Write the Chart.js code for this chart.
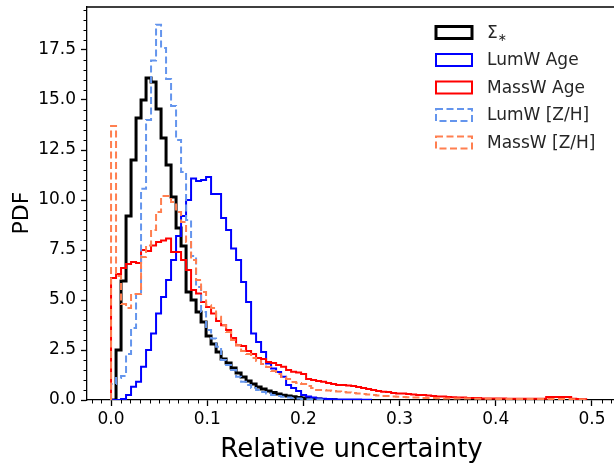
<!DOCTYPE html>
<html>
<head>
<meta charset="utf-8">
<script src="https://cdn.jsdelivr.net/npm/chart.js@4.4.1/dist/chart.umd.min.js"></script>
<style>
  html, body { margin: 0; padding: 0; background: #fff; overflow: hidden; }
  #wrap { width: 622px; height: 464px; position: relative; }
</style>
</head>
<body>
<div id="wrap"><canvas id="pdf"></canvas></div>
<script>
// histogram bins: all series share the same bin width, starting at 0
const binWidth = 0.0052;

const xTicks = [0, 0.1, 0.2, 0.3, 0.4, 0.5];
const yTicks = [0, 2.5, 5, 7.5, 10, 12.5, 15, 17.5];

const seriesLabels = ['Σ*', 'LumW Age', 'MassW Age', 'LumW [Z/H]', 'MassW [Z/H]'];

const sigmaStar = [0, 2.5, 5.95, 9.2, 12.0, 14.1, 15.0, 16.1, 15.9, 14.55, 13.1, 11.75, 10.15, 8.6, 7.7,
  5.4, 5.0, 4.4, 3.9, 3.2, 2.8, 2.4, 2.05, 1.85, 1.6, 1.35, 1.15, 0.95, 0.8, 0.65, 0.55, 0.45, 0.37,
  0.3, 0.24, 0.2, 0.16, 0.13, 0.1, 0.08, 0.06, 0.05, 0.03, 0.02, 0.01];

const lumwAge = [0, 0, 0.05, 0.25, 0.66, 0.91, 1.66, 2.5, 3.33, 4.33, 5.15, 6.0, 7.0, 8.2, 9.2, 10.0,
  11.07, 10.95, 11.0, 11.15, 10.3, 10.3, 9.1, 8.5, 7.57, 7.0, 5.9, 4.9, 3.33, 2.9, 2.4, 1.83, 1.58,
  1.4, 1.16, 0.75, 0.6, 0.45, 0.25, 0.17, 0.12, 0.08, 0.06, 0.05, 0.04, 0.03, 0.03, 0.02, 0.02, 0.02,
  0.01, 0.01];

const masswAge = [6.1, 6.3, 6.6, 6.8, 6.9, 6.85, 7.5, 7.45, 7.73, 7.9, 7.98, 8.07, 7.4, 7.4, 7.0, 6.5,
  5.5, 5.32, 4.9, 4.65, 4.32, 3.95, 3.74, 3.5, 3.1, 2.74, 2.7, 2.45, 2.3, 2.1, 2.05, 1.9, 1.85, 1.75,
  1.66, 1.5, 1.41, 1.38, 1.3, 1.05, 1.0, 0.95, 0.91, 0.85, 0.8, 0.75, 0.75, 0.72, 0.7, 0.65, 0.6, 0.55,
  0.5, 0.45, 0.41, 0.4, 0.35, 0.33, 0.33, 0.3, 0.28, 0.25, 0.25, 0.22, 0.2, 0.17, 0.17, 0.15, 0.14,
  0.12, 0.12, 0.1, 0.1, 0.1, 0.08, 0.08, 0.08, 0.07, 0.07, 0.06, 0.06, 0.06, 0.06, 0.06, 0.06, 0.06,
  0.06, 0.15, 0.15, 0.15, 0.15, 0.15, 0.06, 0.05, 0.04];

const lumwZH = [0.8, 1.1, 1.2, 2.3, 3.6, 5.3, 10.56, 14.0, 16.97, 18.76, 17.6, 16.05, 14.7, 13.0, 11.4,
  9.0, 7.2, 5.65, 4.4, 3.5, 3.08, 2.66, 2.0, 1.75, 1.5, 1.16, 0.91, 0.75, 0.6, 0.5, 0.4, 0.32, 0.25,
  0.2, 0.16, 0.12, 0.1, 0.07, 0.05, 0.04, 0.03, 0.02, 0.01];

const masswZH = [13.7, 6.2, 4.8, 4.6, 5.3, 5.3, 7.15, 7.73, 8.5, 9.4, 10.2, 10.2, 9.9, 9.4, 8.9, 7.9,
  7.0, 6.0, 5.4, 4.74, 4.6, 4.16, 3.74, 3.4, 3.0, 2.74, 2.45, 2.3, 2.1, 1.95, 1.8, 1.65, 1.45, 1.3,
  1.15, 1.05, 0.9, 0.85, 0.8, 0.7, 0.6, 0.5, 0.5, 0.48, 0.45, 0.42, 0.4, 0.38, 0.35, 0.33, 0.3, 0.28,
  0.25, 0.22, 0.2, 0.2, 0.18, 0.16, 0.15, 0.14, 0.12, 0.12, 0.1, 0.1, 0.1, 0.09, 0.08, 0.08, 0.08,
  0.07, 0.07, 0.07, 0.06, 0.06, 0.06, 0.06, 0.06, 0.05, 0.05, 0.05, 0.05, 0.05, 0.05, 0.05, 0.05,
  0.05, 0.05, 0.05, 0.05, 0.05, 0.05, 0.05, 0.04, 0.04, 0.03];

const FONT = "'DejaVu Sans', 'Liberation Sans', sans-serif";

// outline of a step histogram: up at the first edge, down at the last one
function stepPoints(vals) {
  const pts = [{ x: 0, y: 0 }];
  vals.forEach((v, i) => pts.push({ x: i * binWidth, y: v }));
  pts.push({ x: vals.length * binWidth, y: 0 });
  return pts;
}

function histSet(label, vals, color, width, dash, order) {
  return {
    label: label,
    data: stepPoints(vals),
    borderColor: color,
    backgroundColor: 'rgba(0,0,0,0)',
    borderWidth: width,
    borderDash: dash,
    borderJoinStyle: 'miter',
    stepped: true,
    pointRadius: 0,
    fill: false,
    order: order
  };
}

// spines on top/right, minor ticks, legend, axis titles
const decorations = {
  id: 'decorations',
  afterDraw(chart) {
    const ctx = chart.ctx;
    const a = chart.chartArea;
    const xs = chart.scales.x, ys = chart.scales.y;
    ctx.save();
    ctx.strokeStyle = '#000';
    ctx.lineWidth = 1.3;
    ctx.beginPath();
    ctx.moveTo(a.left, a.top); ctx.lineTo(a.right, a.top); ctx.lineTo(a.right, a.bottom);
    ctx.stroke();

    // minor ticks
    ctx.lineWidth = 1;
    ctx.beginPath();
    for (let i = -2; i <= 52; i++) {
      if (i % 10 === 0) continue;
      const px = Math.round(xs.getPixelForValue(i / 100)) + 0.5;
      if (px < a.left || px > a.right) continue;
      ctx.moveTo(px, a.bottom); ctx.lineTo(px, a.bottom + 3.5);
    }
    for (let j = 1; j < 40; j++) {
      if (j % 5 === 0) continue;
      const py = Math.round(ys.getPixelForValue(j / 2)) + 0.5;
      if (py < a.top) continue;
      ctx.moveTo(a.left, py); ctx.lineTo(a.left - 3.5, py);
    }
    ctx.stroke();

    // legend
    ctx.font = '17px ' + FONT;
    ctx.textBaseline = 'middle';
    ctx.textAlign = 'left';
    chart.data.datasets.forEach((ds, i) => {
      const yc = 32.5 + i * 27.5;
      ctx.strokeStyle = ds.borderColor;
      ctx.lineWidth = ds.borderWidth;
      ctx.setLineDash(ds.borderDash || []);
      ctx.strokeRect(436, yc - 6, 36, 12);
      ctx.setLineDash([]);
      ctx.fillStyle = '#262626';
      if (ds.label === 'Σ*') {
        ctx.fillText('Σ', 487, yc + 1);
        const w = ctx.measureText('Σ').width;
        ctx.font = '11px ' + FONT;
        ctx.fillText('∗', 487 + w, yc + 6);
        ctx.font = '17px ' + FONT;
      } else {
        ctx.fillText(ds.label, 487, yc + 1);
      }
    });

    // axis titles
    ctx.fillStyle = '#000';
    ctx.textAlign = 'center';
    ctx.textBaseline = 'alphabetic';
    ctx.font = '26px ' + FONT;
    ctx.fillText('Relative uncertainty', (a.left + a.right) / 2, 457);
    ctx.translate(28, 213);
    ctx.rotate(-Math.PI / 2);
    ctx.font = '22px ' + FONT;
    ctx.fillText('PDF', 0, 0);
    ctx.restore();
  }
};

const tickFont = { family: FONT, size: 17 };

new Chart(document.getElementById('pdf'), {
  type: 'line',
  data: {
    datasets: [
      histSet(seriesLabels[0], sigmaStar, '#000000', 3, [], 5),
      histSet(seriesLabels[1], lumwAge, '#0000ff', 2, [], 4),
      histSet(seriesLabels[2], masswAge, '#ff0000', 2, [], 3),
      histSet(seriesLabels[3], lumwZH, '#6495ed', 2, [7, 3.5], 2),
      histSet(seriesLabels[4], masswZH, '#ff7f50', 2, [7, 3.5], 1)
    ]
  },
  options: {
    responsive: true,
    maintainAspectRatio: false,
    animation: false,
    layout: { padding: { left: 0, top: 7, right: 6, bottom: 0 } },
    plugins: { legend: { display: false }, tooltip: { enabled: false } },
    scales: {
      x: {
        type: 'linear',
        min: -0.025,
        max: 0.525,
        afterBuildTicks: s => { s.ticks = xTicks.map(v => ({ value: v })); },
        afterFit: s => { s.height = 64; s.paddingLeft = 0; s.paddingRight = 0; },
        ticks: {
          font: tickFont, color: '#000', padding: 3, maxRotation: 0, autoSkip: false,
          callback: v => v.toFixed(1)
        },
        grid: { drawOnChartArea: false, drawTicks: true, tickLength: 6, tickWidth: 1.3, tickColor: '#000' },
        border: { display: true, color: '#000', width: 1.3 }
      },
      y: {
        type: 'linear',
        min: 0,
        max: 19.65,
        afterBuildTicks: s => { s.ticks = yTicks.map(v => ({ value: v })); },
        afterFit: s => { s.width = 87; s.paddingTop = 0; s.paddingBottom = 0; },
        ticks: {
          font: tickFont, color: '#000', padding: 5, autoSkip: false,
          callback: v => v.toFixed(1)
        },
        grid: { drawOnChartArea: false, drawTicks: true, tickLength: 6, tickWidth: 1.3, tickColor: '#000' },
        border: { display: true, color: '#000', width: 1.3 }
      }
    }
  },
  plugins: [decorations]
});
</script>
</body>
</html>
